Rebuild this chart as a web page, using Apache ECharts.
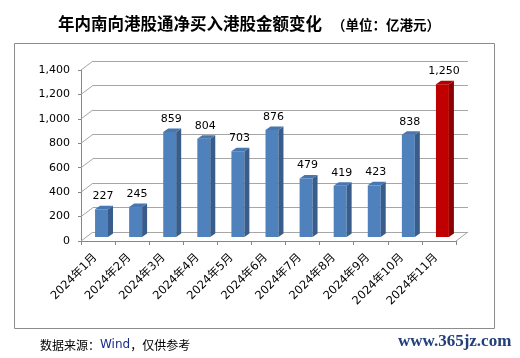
<!DOCTYPE html>
<html>
<head>
<meta charset="utf-8">
<script src="https://cdn.jsdelivr.net/npm/echarts@6/dist/echarts.min.js"></script>
<style>
html,body{margin:0;padding:0;background:#fff;}
#chart{width:520px;height:358px;}
</style>
</head>
<body>
<div id="chart"></div>
<script>
// ---- data ----
const categories = ['2024年1月','2024年2月','2024年3月','2024年4月','2024年5月','2024年6月','2024年7月','2024年8月','2024年9月','2024年10月','2024年11月'];
const netBuy = [227, 245, 859, 804, 703, 876, 479, 419, 423, 838, 1250];
const yTicks = [0, 200, 400, 600, 800, 1000, 1200, 1400];
const yMin = 0, yMax = 1400, yStep = 200;
const titleMain = '年内南向港股通净买入港股金额变化';
const titleUnit = '（单位：亿港元）';

// ---- styling ----
const DEPTH_X = 12, DEPTH_Y = 9;       // wall depth (back -> front)
const BAR_DX = 5, BAR_DY = 3.5;         // bar depth
const fmt = v => Number(v).toLocaleString('en-US');
const numFont = '"DejaVu Sans", Verdana, sans-serif';
const cjkFont = '"DejaVu Sans", "Noto Sans CJK SC", sans-serif';
const blue = {front:'#4F81BD', side:'#385D8A', top:'#4876B0'};
const red = {front:'#C00000', side:'#8A0000', top:'#B00000'};

const chart = echarts.init(document.getElementById('chart'), null, {renderer:'canvas'});

const option = {
  animation: false,
  backgroundColor: '#fff',
  grid: [
    {left: 93, top: 61, width: 375, height: 171},   // back wall
    {left: 81, top: 70, width: 375, height: 171}    // front plane (axes)
  ],
  xAxis: [
    {type:'category', gridIndex:0, data:categories, show:false},
    {type:'category', gridIndex:1, data:categories,
     axisLine:{lineStyle:{color:'#868686', width:1}},
     axisTick:{show:true, length:4, interval:0, lineStyle:{color:'#868686'}},
     axisLabel:{interval:0, rotate:45, margin:12, padding:[0,4,0,0], fontSize:11.5, color:'#000', fontFamily:cjkFont}}
  ],
  yAxis: [
    {type:'value', gridIndex:0, min:yMin, max:yMax, interval:yStep,
     axisLine:{show:false}, axisTick:{show:false}, axisLabel:{show:false},
     splitLine:{show:true, lineStyle:{color:'#a6a6a6', width:1}}},
    {type:'value', gridIndex:1, min:yMin, max:yMax, interval:yStep,
     axisLine:{show:true, lineStyle:{color:'#868686', width:1}},
     axisTick:{show:true, length:3, lineStyle:{color:'#868686'}},
     splitLine:{show:false},
     axisLabel:{margin:11, fontSize:11, color:'#000', fontFamily:numFont, formatter: v => fmt(v)}}
  ],
  graphic: [
    {type:'rect', shape:{x:14.5, y:43.5, width:480, height:285}, style:{fill:'none', stroke:'#8c8c8c', lineWidth:1}, z:-1},
    {type:'text', x:58, y:24, style:{text:titleMain, font:'bold 16.5px "Noto Sans CJK SC", sans-serif', fill:'#000', verticalAlign:'middle'}},
    {type:'text', x:332, y:25, style:{text:titleUnit, font:'bold 13.5px "Noto Sans CJK SC", sans-serif', fill:'#000', verticalAlign:'middle'}},
    {type:'text', x:40, y:345, style:{
      text:'{a|数据来源：}{b|Wind}{a|，仅供参考}', verticalAlign:'middle',
      rich:{a:{fontSize:12, fontFamily:'"Noto Sans CJK SC", sans-serif', fill:'#000'},
            b:{fontSize:12, fontFamily:'"DejaVu Sans", sans-serif', fill:'#1c2a8c'}}}},
    {type:'text', x:398, y:342, style:{text:'www.365jz.com', font:'bold 17px "Liberation Serif", serif', fill:'#23407a', verticalAlign:'middle'}}
  ],
  series: [
    { // wall corner diagonals at each tick
      type:'custom', xAxisIndex:0, yAxisIndex:0, silent:true, z:1,
      data: yTicks.map(v => [0, v]),
      renderItem: function(params, api){
        const cs = params.coordSys;
        const p = api.coord([0, api.value(1)]);
        const children = [{type:'line', shape:{x1:cs.x, y1:p[1], x2:cs.x-DEPTH_X, y2:p[1]+DEPTH_Y},
                 style:{stroke:'#a6a6a6', lineWidth:1}}];
        if (api.value(1) === yMin) {
          children.push({type:'line', shape:{x1:cs.x+cs.width, y1:p[1], x2:cs.x+cs.width-DEPTH_X, y2:p[1]+DEPTH_Y},
                 style:{stroke:'#a6a6a6', lineWidth:1}});
        }
        return {type:'group', children: children};
      }
    },
    { // 3D bars
      type:'custom', xAxisIndex:0, yAxisIndex:0, z:5,
      data: netBuy.map((v, i) => [i, v]),
      renderItem: function(params, api){
        const i = api.value(0), v = api.value(1);
        const top = api.coord([i, v]);
        const base = api.coord([i, 0]);
        const band = api.size([1, 0])[0];
        const w = band * 0.38;
        const cx = top[0] - band * 0.25;
        const offY = 5;
        const l = cx - w/2, r = cx + w/2;
        const t = top[1] + offY, b = base[1] + offY;
        const c = (i === netBuy.length - 1) ? red : blue;
        return {type:'group', children:[
          {type:'rect', shape:{x:l, y:t, width:w, height:b-t}, style:{fill:c.front}},
          {type:'polygon', shape:{points:[[r,t],[r+BAR_DX,t-BAR_DY],[r+BAR_DX,b-BAR_DY],[r,b]]}, style:{fill:c.side}},
          {type:'polygon', shape:{points:[[l,t],[l+BAR_DX,t-BAR_DY],[r+BAR_DX,t-BAR_DY],[r,t]]}, style:{fill:c.top}},
          {type:'text', style:{text:fmt(v), x:cx+1.5, y:t-BAR_DY-4, align:'center', verticalAlign:'bottom',
             font:'11px ' + numFont, fill:'#000'}}
        ]};
      }
    }
  ]
};
chart.setOption(option);
</script>
</body>
</html>
